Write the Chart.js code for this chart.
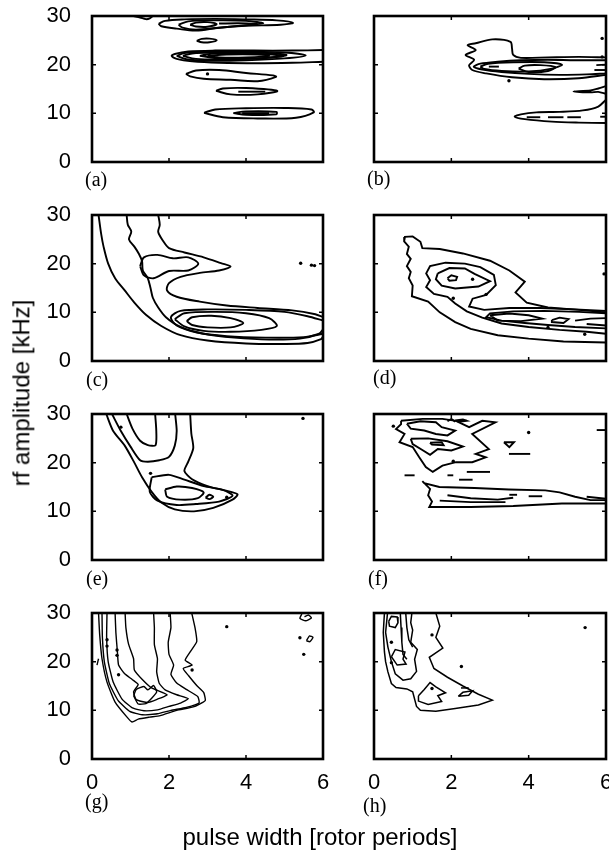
<!DOCTYPE html>
<html>
<head>
<meta charset="utf-8">
<script src="https://cdn.jsdelivr.net/npm/chart.js@4.4.0/dist/chart.umd.min.js"></script>
<style>
body { margin: 0; background: #fff; }
#page { position: relative; width: 609px; height: 853px; overflow: hidden; background: #fff; }
canvas { position: absolute; }
.lab { position: absolute; font: 20px 'Liberation Serif', 'Times New Roman', serif; line-height: 20px; color: #000; }
.ttl { position: absolute; font: 24px 'Liberation Sans', Arial, sans-serif; line-height: 24px; color: #000; white-space: nowrap; }
</style>
</head>
<body>
<div id="page"></div>
<script>
// axis ticks
const xTicks = [0, 2, 4, 6];
const yTicks = [0, 10, 20, 30];
const panelLabels = ["(a)", "(b)", "(c)", "(d)", "(e)", "(f)", "(g)", "(h)"];

// contour lines, one array of [pulse width, rf amplitude] per line
const contoursA = [
    [[1.08,30],[1.25,29.7],[1.4,29.35],[1.5,29.5],[1.58,30]],
    [[1.73,28.4],[1.9,29.0],[2.4,29.3],[3.2,29.4],[4.0,29.3],[4.8,29.1],[5.22,28.6],[4.9,28.2],[4.0,28.0],[3.3,27.6],[2.7,27.0],[2.2,27.4],[1.8,27.9],[1.73,28.4]],
    [[2.25,28.2],[2.5,28.9],[3.2,29.1],[4.0,29.0],[4.45,28.5],[4.0,28.1],[3.3,27.6],[2.7,27.2],[2.35,27.6],[2.25,28.2]],
    [[2.55,28.2],[2.7,28.65],[3.0,28.75],[3.24,28.35],[3.0,27.8],[2.7,27.85],[2.55,28.2]],
    [[3.3,28.45],[3.8,28.5],[4.3,28.4]],
    [[2.72,24.9],[2.85,25.3],[3.05,25.35],[3.24,25.0],[3.05,24.6],[2.85,24.6],[2.72,24.9]],
    [[6,23.0],[5.2,22.9],[4.2,22.9],[3.2,22.9],[2.5,22.7],[2.15,22.2],[2.07,21.8],[2.2,21.2],[2.6,20.7],[3.3,20.4],[4.3,20.3],[5.2,20.4],[6,20.6]],
    [[2.2,21.8],[2.4,22.4],[3.0,22.7],[4.0,22.7],[5.0,22.5],[5.55,21.9],[5.0,21.3],[4.0,20.9],[3.0,20.8],[2.45,21.1],[2.2,21.8]],
    [[2.36,21.8],[2.6,22.3],[3.2,22.5],[4.2,22.5],[5.05,22.0],[4.5,21.4],[3.5,21.1],[2.7,21.2],[2.36,21.8]],
    [[2.8,21.8],[3.1,22.25],[4.0,22.3],[4.97,21.8],[4.3,21.3],[3.4,21.2],[2.8,21.8]],
    [[3.0,21.8],[3.5,22.1],[4.3,22.1],[4.6,21.8],[4.0,21.5],[3.3,21.5],[3.0,21.8]],
    [[2.44,18.1],[2.7,18.8],[3.3,18.9],[4.0,18.3],[4.7,17.8],[4.78,17.5],[4.3,16.6],[3.6,16.9],[2.9,17.1],[2.55,17.6],[2.44,18.1]],
    [[3.22,14.6],[3.4,15.1],[4.0,15.2],[4.81,14.6],[4.3,13.9],[3.6,13.9],[3.22,14.6]],
    [[3.8,14.45],[4.5,14.45]],
    [[2.91,10.1],[3.2,10.8],[4.0,11.05],[5.0,11.1],[5.7,10.8],[5.76,10.2],[5.3,9.1],[4.3,8.95],[3.4,9.2],[2.91,10.1]],
    [[3.67,10.05],[4.0,10.4],[4.79,10.3],[4.79,9.8],[4.0,9.7],[3.67,10.05]],
    [[3.9,10.05],[4.6,10.05]]
];
const dotsA = [[3.0,18.1]];

const contoursB = [
    [[6,21.5],[5.3,21.6],[4.5,21.5],[3.8,21.4],[3.6,22.0],[3.57,23.3],[3.53,24.7],[3.06,25.2],[2.63,24.4],[2.42,24.0],[2.63,23.0],[2.37,22.0],[2.59,21.0],[2.46,19.9],[2.54,18.9],[2.9,18.2],[3.57,17.4],[4.4,17.0],[5.29,17.2],[6,17.9]],
    [[6,20.9],[5.2,20.9],[4.5,21.0],[3.8,20.9],[3.2,20.6],[2.75,20.2],[2.58,19.6],[2.8,19.0],[3.3,18.5],[4.0,18.1],[4.8,17.9],[5.5,18.0],[6,18.2]],
    [[2.75,19.6],[2.95,20.2],[3.6,20.5],[4.4,20.5],[4.86,20.0],[4.6,19.2],[4.0,18.6],[3.3,18.7],[2.85,19.1],[2.75,19.6]],
    [[3.74,19.2],[3.9,19.8],[4.3,19.9],[4.69,19.5],[4.5,18.7],[4.0,18.5],[3.74,19.2]],
    [[2.97,19.6],[3.23,19.6]],
    [[5.7,18.9],[6,18.9]],
    [[5.75,19.9],[6,20.0]],
    [[6,12.8],[5.8,11.4],[5.4,10.6],[4.8,10.3],[4.2,10.2],[3.8,9.8],[3.64,9.3],[3.9,8.8],[4.6,8.3],[5.3,8.1],[6,8.0]],
    [[3.95,9.2],[4.3,9.2]],
    [[4.5,9.2],[4.9,9.2]],
    [[5.0,9.2],[5.35,9.2]],
    [[5.85,9.3],[6,9.3]],
    [[6,15.6],[5.8,15.1],[5.6,14.7],[5.16,14.5],[5.6,14.3],[5.8,14.4],[6,14.0]]
];
const dotsB = [[3.49,16.7],[5.9,25.4],[5.9,21.6]];

const contoursC = [
    [[0.17,30],[0.24,26],[0.3,23.5],[0.42,20],[0.6,17],[0.85,14.5],[1.1,12],[1.4,9.5],[1.8,7.2],[2.3,5.3],[3.0,4.2],[4.0,3.6],[5.0,3.5],[5.6,3.7],[5.95,4.5],[6,5.0]],
    [[0.9,30],[0.93,28],[1.02,26.6],[0.96,25],[1.1,23.5],[1.22,22],[1.3,20.5],[1.32,18.6],[1.45,17],[1.52,15],[1.58,13],[1.72,11],[1.92,9],[2.3,7],[2.9,5.6],[3.7,4.8],[4.6,4.4],[5.4,4.6],[5.9,5.6],[6,6.5]],
    [[1.72,30],[1.76,28],[1.72,26.5],[1.86,24.5],[2.0,23.2],[2.4,22.3],[2.9,21.3],[3.35,20.1],[3.6,19.4],[3.3,18.6],[2.8,18.1],[2.3,17.3],[2.0,16.0],[1.95,14.5],[2.2,13.2],[2.8,12.2],[3.5,11.4],[4.3,10.9],[5.2,10.4],[5.8,9.6],[6,9.0]],
    [[6,8.3],[5.6,9.2],[5.0,10.1],[4.0,10.5],[3.0,10.6],[2.3,10.3],[2.05,9.0],[2.2,7.3],[2.7,5.9],[3.5,5.1],[4.5,4.8],[5.5,4.9],[6,5.6]],
    [[2.15,8.6],[2.4,9.8],[3.2,10.1],[4.0,9.8],[4.6,8.8],[4.8,7.2],[4.4,6.4],[3.6,6.0],[2.9,6.2],[2.4,7.1],[2.15,8.6]],
    [[2.46,8.2],[2.6,9.0],[3.1,9.3],[3.6,8.8],[3.93,7.8],[3.6,6.9],[3.0,6.9],[2.6,7.4],[2.46,8.2]],
    [[1.25,19.5],[1.35,21.3],[1.7,21.8],[2.1,21.1],[2.5,21.3],[2.76,20.0],[2.5,18.6],[2.0,18.5],[1.6,17.0],[1.35,17.6],[1.25,19.5]]
];
const dotsC = [[5.42,20.1],[5.7,19.7],[5.78,19.6]];

const contoursD = [
    [[6,10.0],[5.3,10.5],[4.5,11.0],[3.95,12.0],[3.66,14.1],[3.9,16.3],[3.5,18.6],[3.0,20.6],[2.3,22.1],[1.7,23.0],[1.25,23.2],[1.2,24.5],[1.0,25.6],[0.8,25.5],[0.78,24.6],[0.9,23.5],[0.85,22.0],[0.95,21.0],[0.85,19.5],[0.95,18.3],[0.9,17.0],[1.0,15.5],[0.98,13.3],[1.4,12.2],[1.7,10.0],[2.1,8.0],[2.5,6.6],[3.2,5.3],[4.0,4.6],[4.9,4.0],[6,3.8]],
    [[6,5.6],[5.5,6.0],[4.8,6.4],[4.0,7.0],[3.3,7.7],[2.8,8.9],[2.4,10.2],[2.1,11.8],[1.9,13.2],[1.55,13.8],[1.35,15.2],[1.45,16.6],[1.35,18.0],[1.45,19.5],[1.85,20.2],[2.35,20.0],[2.75,19.3],[3.1,17.7],[3.15,15.6],[2.9,13.6],[2.55,12.8],[2.46,11.2],[2.85,10.5],[3.5,10.9],[4.3,10.9],[5.2,10.6],[6,10.3]],
    [[1.65,18.0],[1.95,19.1],[2.35,19.0],[2.6,17.9],[3.0,16.4],[2.7,15.3],[2.1,14.9],[1.75,15.5],[1.6,16.8],[1.65,18.0]],
    [[1.9,17.0],[2.0,17.6],[2.15,17.3],[2.12,16.6],[1.95,16.5],[1.9,17.0]],
    [[6,9.8],[5.3,10.1],[4.4,10.3],[3.6,10.2],[3.0,9.8],[2.9,9.0],[3.3,8.3],[3.9,7.8],[4.5,7.4],[5.2,7.0],[6,6.7]],
    [[3.0,9.4],[3.5,9.75],[4.0,9.4],[4.35,8.7],[3.8,8.2],[3.2,8.3],[3.0,9.4]],
    [[4.6,8.4],[4.8,8.9],[5.03,8.6],[4.9,7.8],[4.6,8.0],[4.6,8.4]],
    [[5.2,8.3],[5.6,8.7],[6,8.8]],
    [[5.5,7.6],[6,7.3]]
];
const dotsD = [[2.55,16.8],[2.9,13.7],[2.05,12.9],[4.5,6.9],[5.45,5.5],[5.95,17.9]];

const contoursE = [
    [[0.37,30],[0.55,26.5],[0.85,23.5],[1.1,20.0],[1.3,17.0],[1.55,14.0],[1.8,11.8],[2.15,10.4],[2.65,10.0],[3.15,10.7],[3.65,12.4],[3.78,13.5],[3.45,14.3],[3.0,15.2],[2.6,16.6],[2.4,18.3],[2.5,20.2],[2.63,23.0],[2.58,26.0],[2.55,30]],
    [[0.52,30],[0.75,26.5],[1.0,23.3],[1.25,20.5],[1.45,20.2],[1.75,20.5],[2.0,21.2],[2.15,23.5],[2.2,26.5],[2.16,30]],
    [[0.9,30],[1.05,27],[1.25,24.5],[1.45,23.6],[1.65,23.6],[1.67,26.5],[1.64,30]],
    [[1.55,17.0],[2.0,17.5],[2.4,16.5],[2.9,15.2],[3.4,14.4],[3.65,13.2],[3.3,12.0],[2.7,11.5],[2.2,11.3],[1.7,12.2],[1.5,14.0],[1.55,17.0]],
    [[1.9,14.5],[2.2,15.1],[2.6,14.8],[2.9,13.9],[2.75,12.7],[2.3,12.4],[1.95,13.0],[1.9,14.5]],
    [[2.95,12.8],[3.05,13.4],[3.15,13.0],[3.05,12.5],[2.95,12.8]]
];
const dotsE = [[3.5,12.9],[1.52,17.8],[5.48,29.1],[0.75,27.3]];

const contoursF = [
    [[0.7,28.6],[1.26,29.0],[1.77,29.0],[2.12,28.6],[2.46,27.3],[2.8,28.6],[3.14,28.3],[2.54,25.9],[2.97,22.8],[2.63,21.8],[2.89,21.1],[2.54,20.1],[2.12,20.1],[1.77,19.4],[1.52,18.1],[1.34,19.1],[1.17,21.1],[1.0,23.2],[0.66,24.2],[0.79,25.9],[0.57,26.9],[0.7,27.9],[0.7,28.6]],
    [[0.85,28.0],[1.2,28.5],[1.6,28.3],[1.75,27.3],[2.1,26.6],[1.9,25.6],[1.6,25.9],[1.3,26.6],[0.95,27.0],[0.85,28.0]],
    [[0.95,24.9],[1.4,25.0],[1.9,24.4],[2.3,23.3],[2.0,22.5],[1.65,22.8],[1.45,21.6],[1.25,22.6],[1.0,23.8],[0.95,24.9]],
    [[1.45,24.1],[1.75,24.2],[1.8,23.6],[1.5,23.7],[1.45,24.1]],
    [[1.9,28.5],[2.0,29.0],[2.1,28.4]],
    [[2.1,28.7],[2.3,28.9],[2.4,28.6],[2.2,28.4],[2.1,28.7]],
    [[6,12.3],[5.6,12.3],[5.2,13.0],[4.8,13.9],[4.43,14.3],[3.49,14.5],[2.6,14.8],[1.69,15.0],[1.3,15.8],[1.25,16.2],[1.45,14.6],[1.4,13.3],[1.5,12.0],[1.43,10.9],[2.5,10.9],[3.6,11.1],[4.86,11.6],[6,11.6]],
    [[1.9,13.3],[2.5,12.7],[3.2,12.4],[3.6,12.8]],
    [[1.7,12.2],[2.5,11.9],[3.4,11.9]],
    [[4.0,13.1],[4.35,13.1]],
    [[3.5,13.4],[3.7,13.4]],
    [[5.5,13.0],[6,12.6]],
    [[0.79,17.4],[1.05,17.4]],
    [[1.9,17.4],[2.05,17.4]],
    [[2.2,16.5],[2.55,16.5]],
    [[2.4,18.1],[3.0,18.1]],
    [[3.49,21.8],[4.04,21.8]],
    [[3.36,24.2],[3.62,24.2],[3.5,23.2],[3.36,24.2]],
    [[5.76,26.7],[6,26.7]]
];
const dotsF = [[4.0,26.2],[2.05,20.3],[0.5,27.5]];

const contoursG = [
    [[0.17,30],[0.2,25.5],[0.26,20.6],[0.39,15.8],[0.6,11.7],[0.91,8.6],[1.04,7.6],[1.2,8.2],[1.5,8.6],[1.77,8.9],[2.2,10.0],[2.63,10.7],[2.94,12.0],[2.9,13.7],[2.72,15.1],[2.5,17.2],[2.37,18.6],[2.6,19.3],[2.42,20.3],[2.55,22.0],[2.72,24.1],[2.68,26.8],[2.59,30]],
    [[0.26,30],[0.27,25],[0.32,20],[0.45,15.5],[0.68,12],[0.98,9.8],[1.3,9.1],[1.7,9.3],[2.05,10.0],[2.45,10.6],[2.78,11.5],[2.75,12.8],[2.45,14.3],[2.2,15.6],[2.05,17.4],[2.12,19.3],[2.0,21.5],[1.98,24],[2.05,27],[2.03,30]],
    [[0.39,30],[0.38,25],[0.42,20],[0.55,15.8],[0.78,12.3],[1.05,10.5],[1.35,9.9],[1.7,10.1],[2.0,10.8],[2.3,11.5],[2.5,12.4],[2.2,13.2],[1.9,14.2],[1.75,15.5],[1.68,17.9],[1.7,20.6],[1.62,23.5],[1.62,27],[1.6,30]],
    [[0.6,30],[0.62,26],[0.66,22],[0.69,19.3],[0.85,17.5],[1.05,16.3],[1.2,15.3],[1.08,13.8],[1.15,12.2],[1.45,11.6],[1.7,12.3],[1.95,13.2],[1.55,14.6],[1.3,16.4],[1.1,18.3],[1.08,20.6],[0.95,23.6],[0.88,27],[0.86,30]],
    [[1.08,13.0],[1.15,14.3],[1.35,14.9],[1.45,14.2],[1.6,15.1],[1.68,13.8],[1.55,12.5],[1.4,11.4],[1.2,11.3],[1.08,13.0]],
    [[5.57,24.3],[5.65,25.3],[5.74,25.0],[5.66,24.1],[5.57,24.3]],
    [[5.45,29.8],[5.4,28.9],[5.55,28.4],[5.7,29.0],[5.62,29.6],[5.52,29.2]],
    [[0.13,19.3],[0.17,20.6]]
];
const dotsG = [[3.5,27.2],[5.4,24.9],[5.5,21.5],[0.39,24.5],[0.39,23.2],[0.65,22.4],[0.65,21.3],[0.69,17.3],[2.6,18.3]];

const contoursH = [
    [[0.27,30],[0.24,26],[0.27,22],[0.3,20],[0.36,17.9],[0.45,15.5],[0.57,14.7],[0.85,14.4],[1.0,13.8],[1.1,10.8],[1.2,10.0],[1.6,9.8],[2.1,10.4],[2.7,11.1],[3.06,12.1],[2.7,13.3],[2.3,15.0],[1.9,16.8],[1.55,18.6],[1.43,20.9],[1.78,22.8],[1.6,25.0],[1.7,27.3],[1.6,30]],
    [[1.15,13.0],[1.3,14.3],[1.45,15.7],[1.6,14.8],[1.85,13.6],[1.65,13.0],[1.75,11.8],[1.4,11.2],[1.15,11.9],[1.15,13.0]],
    [[2.18,12.9],[2.3,13.7],[2.55,14.0],[2.45,13.1],[2.18,12.9]],
    [[2.25,14.6],[2.45,14.6]],
    [[0.35,30],[0.3,26],[0.36,23],[0.45,20],[0.55,17.5],[0.75,16.2],[0.95,16.5],[1.1,18.0],[1.05,20.5],[1.12,22.5],[0.95,24],[1.0,26.5],[0.95,28],[0.98,30]],
    [[0.68,30],[0.7,27],[0.72,24],[0.75,21.5],[0.85,20.5]],
    [[0.82,30],[0.85,27],[0.9,24.5],[1.0,23.0]],
    [[0.38,28.3],[0.45,29.3],[0.6,29.2],[0.62,28.0],[0.55,27.0],[0.4,27.3],[0.38,28.3]],
    [[0.45,21],[0.55,22.5],[0.8,22.0],[0.75,20.5],[0.83,19.5],[0.6,19.3],[0.45,21]]
];
const dotsH = [[1.5,25.5],[2.26,19.0],[1.5,14.5],[5.46,27.0],[0.45,24.0],[0.45,19.8]];

const panels = [
    { contours: contoursA, dots: dotsA, lw: 1.9, tension: 0.35 },
    { contours: contoursB, dots: dotsB, lw: 1.9, tension: 0.3 },
    { contours: contoursC, dots: dotsC, lw: 1.9, tension: 0.3 },
    { contours: contoursD, dots: dotsD, lw: 1.9, tension: 0 },
    { contours: contoursE, dots: dotsE, lw: 1.9, tension: 0.25 },
    { contours: contoursF, dots: dotsF, lw: 1.9, tension: 0 },
    { contours: contoursG, dots: dotsG, lw: 1.4, tension: 0.15 },
    { contours: contoursH, dots: dotsH, lw: 1.5, tension: 0 }
];

// plot box geometry in page pixels
const colLeft = [92, 374];
const colWidth = [231, 232];
const rowTop = [16, 215, 414, 613];
const plotH = 146;
const labelPos = [[85,169],[367,168],[86,369],[373,367],[86,568],[368,568],[85,791],[363,795]];

const page = document.getElementById("page");
const fontSans = "'Liberation Sans', Arial, sans-serif";

// keep the plot box fixed, labels may overflow
function noPad(s) {
    s.paddingLeft = 0; s.paddingRight = 0; s.paddingTop = 0; s.paddingBottom = 0;
}

// MATLAB style box with inward ticks
const framePlugin = {
    id: "frame",
    afterDraw(chart) {
        const { ctx, chartArea: a, scales } = chart;
        ctx.save();
        ctx.strokeStyle = "#000";
        ctx.lineWidth = 2.6;
        ctx.strokeRect(a.left, a.top, a.right - a.left, a.bottom - a.top);
        ctx.lineWidth = 1.5;
        ctx.beginPath();
        xTicks.slice(1, -1).forEach(v => {
            const px = scales.x.getPixelForValue(v);
            ctx.moveTo(px, a.bottom); ctx.lineTo(px, a.bottom - 4);
            ctx.moveTo(px, a.top); ctx.lineTo(px, a.top + 4);
        });
        yTicks.slice(1, -1).forEach(v => {
            const py = scales.y.getPixelForValue(v);
            ctx.moveTo(a.left, py); ctx.lineTo(a.left + 4, py);
            ctx.moveTo(a.right, py); ctx.lineTo(a.right - 4, py);
        });
        ctx.stroke();
        ctx.restore();
    }
};

panels.forEach((p, i) => {
    const col = i % 2, row = Math.floor(i / 2);
    const L = colLeft[col], W = colWidth[col], T = rowTop[row];
    const cw = W + 72, ch = plotH + 60;
    const cv = document.createElement("canvas");
    cv.width = cw; cv.height = ch;
    cv.style.left = (L - 60) + "px";
    cv.style.top = (T - 15) + "px";
    cv.style.width = cw + "px";
    cv.style.height = ch + "px";
    page.appendChild(cv);

    const datasets = p.contours.map(c => ({
        data: c.map(q => ({ x: q[0], y: q[1] })),
        showLine: true,
        pointRadius: 0,
        borderColor: "#000",
        borderWidth: p.lw,
        tension: p.tension,
        fill: false
    }));
    datasets.push({
        data: p.dots.map(q => ({ x: q[0], y: q[1] })),
        showLine: false,
        pointRadius: 1.7,
        backgroundColor: "#000",
        borderWidth: 0
    });

    new Chart(cv, {
        type: "scatter",
        data: { datasets: datasets },
        options: {
            responsive: false,
            animation: false,
            events: [],
            layout: { autoPadding: false, padding: { left: 0, top: 15, right: 12, bottom: 0 } },
            plugins: { legend: { display: false }, tooltip: { enabled: false } },
            scales: {
                x: {
                    type: "linear", min: 0, max: 6,
                    grid: { display: false }, border: { display: false },
                    afterBuildTicks: s => { s.ticks = xTicks.map(v => ({ value: v })); },
                    afterFit: s => { s.height = 45; noPad(s); },
                    ticks: { display: row === 3, padding: 3, color: "#000", font: { family: fontSans, size: 22 } }
                },
                y: {
                    type: "linear", min: 0, max: 30,
                    grid: { display: false }, border: { display: false },
                    afterBuildTicks: s => { s.ticks = yTicks.map(v => ({ value: v })); },
                    afterFit: s => { s.width = 60; noPad(s); },
                    ticks: { display: col === 0, padding: 13, color: "#000", font: { family: fontSans, size: 22 } }
                }
            }
        },
        plugins: [framePlugin]
    });

    const lab = document.createElement("div");
    lab.className = "lab";
    lab.textContent = panelLabels[i];
    lab.style.left = labelPos[i][0] + "px";
    lab.style.top = labelPos[i][1] + "px";
    page.appendChild(lab);
});

const yTitle = document.createElement("div");
yTitle.className = "ttl";
yTitle.textContent = "rf amplitude [kHz]";
page.appendChild(yTitle);
yTitle.style.left = (21 - yTitle.offsetWidth / 2) + "px";
yTitle.style.top = (393 - 12) + "px";
yTitle.style.transform = "rotate(-90deg)";

const xTitle = document.createElement("div");
xTitle.className = "ttl";
xTitle.textContent = "pulse width [rotor periods]";
page.appendChild(xTitle);
xTitle.style.left = (320 - xTitle.offsetWidth / 2) + "px";
xTitle.style.top = "825px";
</script>
</body>
</html>
